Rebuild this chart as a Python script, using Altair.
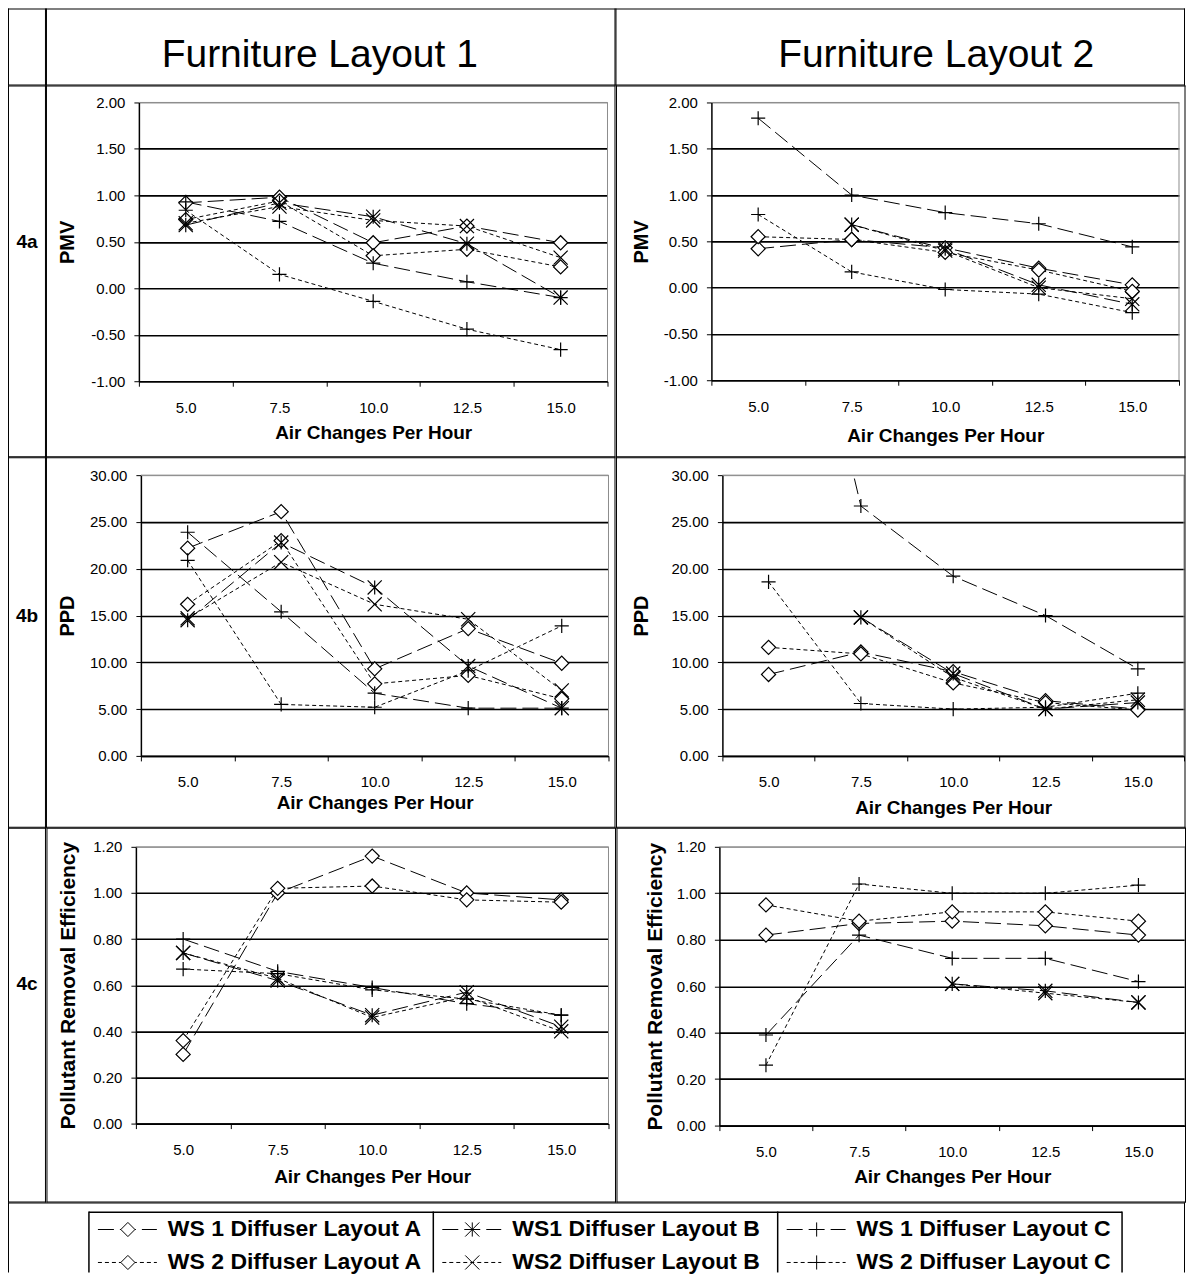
import altair as alt
import pandas as pd

FONT = "Liberation Sans"

categories = ["5.0", "7.5", "10.0", "12.5", "15.0"]
series = ["WS 1 Diffuser Layout A", "WS 2 Diffuser Layout A",
          "WS1 Diffuser Layout B", "WS2 Diffuser Layout B",
          "WS 1 Diffuser Layout C", "WS 2 Diffuser Layout C"]

# rows follow the order of `series`; None = no value
pmv_layout1 = [
    [0.92, 0.98, 0.49, 0.67, 0.49],
    [0.74, 0.94, 0.35, 0.42, 0.23],
    [0.68, 0.92, 0.77, 0.48, -0.10],
    [0.70, 0.88, 0.73, 0.67, 0.33],
    [0.93, 0.72, 0.27, 0.07, -0.10],
    [0.84, 0.15, -0.14, -0.44, -0.66],
]
pmv_layout2 = [
    [0.42, 0.52, 0.43, 0.21, 0.03],
    [0.55, 0.52, 0.38, 0.19, -0.04],
    [None, 0.68, 0.42, 0.03, -0.18],
    [None, 0.68, 0.40, 0.00, -0.12],
    [1.83, 1.00, 0.81, 0.69, 0.44],
    [0.79, 0.17, -0.02, -0.07, -0.27],
]
ppd_layout1 = [
    [22.2, 26.1, 9.3, 13.6, 9.9],
    [16.2, 23.0, 7.7, 8.6, 6.1],
    [14.5, 22.8, 18.0, 9.6, 5.1],
    [14.7, 20.7, 16.2, 14.6, 7.0],
    [23.9, 15.4, 6.7, 5.1, 5.1],
    [20.9, 5.5, 5.2, 9.1, 13.9],
]
ppd_layout2 = [
    [8.7, 11.1, 9.0, 5.9, 5.0],
    [11.6, 10.9, 7.8, 5.7, 4.9],
    [None, 14.8, 8.8, 5.0, 5.7],
    [None, 14.8, 8.4, 5.0, 6.0],
    [68.5, 26.7, 19.2, 15.0, 9.3],
    [18.6, 5.6, 5.0, 5.2, 6.7],
]
pre_layout1 = [
    [0.30, 1.00, 1.16, 1.00, 0.97],
    [0.36, 1.02, 1.03, 0.97, 0.96],
    [0.74, 0.62, 0.47, 0.57, 0.42],
    [0.74, 0.63, 0.46, 0.55, 0.40],
    [0.80, 0.66, 0.59, 0.52, 0.47],
    [0.67, 0.65, 0.58, 0.54, 0.47],
]
pre_layout2 = [
    [0.82, 0.87, 0.88, 0.86, 0.82],
    [0.95, 0.88, 0.92, 0.92, 0.88],
    [None, None, 0.61, 0.58, 0.53],
    [None, None, 0.61, 0.57, 0.53],
    [0.39, 0.82, 0.72, 0.72, 0.62],
    [0.26, 1.04, 1.00, 1.00, 1.035],
]

pmv_ticks = [-1.0, -0.5, 0.0, 0.5, 1.0, 1.5, 2.0]
ppd_ticks = [0, 5, 10, 15, 20, 25, 30]
pre_ticks = [0.0, 0.2, 0.4, 0.6, 0.8, 1.0, 1.2]

headers = ["Furniture Layout 1", "Furniture Layout 2"]
row_labels = ["4a", "4b", "4c"]

STAR = "M-1,-1L1,1M-1,1L1,-1M0,-1L0,1"
XSH = "M-1,-1L1,1M-1,1L1,-1"
PLUS = "M-1,0L1,0M0,-1L0,1"
shapes = ["diamond", "diamond", STAR, XSH, PLUS, PLUS]
sizes = [200, 200, 150, 150, 190, 190]
legend_sizes = [90, 90, 70, 60, 90, 90]
dashes = [[16, 6], [4, 3], [16, 6], [4, 3], [16, 6], [4, 3]]
legend_dashes = [[5, 4], [1.5, 3], [5, 4], [1.5, 3], [5, 4], [1.5, 3]]

one = pd.DataFrame({"k": [0]})

LABEL_W = 38
CELL_W = 570
TOTAL_W = LABEL_W + 2 * CELL_W


def make_df(values):
    rows = []
    for s, vals in zip(series, values):
        for i, (c, v) in enumerate(zip(categories, vals)):
            rows.append({"ach": c, "idx": i, "series": s, "value": v})
    return pd.DataFrame(rows)


def bar(x0, x1, y0, y1):
    # a thin filled rectangle used as a table line (no stroke -> exact bounds)
    return alt.Chart(one).mark_rect(color="black", opacity=1).encode(
        x=alt.value(x0), x2=alt.value(x1), y=alt.value(y0), y2=alt.value(y1))


def frame(x0, x1, y0, y1, sides="tblr"):
    parts = []
    if "t" in sides:
        parts.append(bar(x0, x1, y0, y0 + 1))
    if "b" in sides:
        parts.append(bar(x0, x1, y1 - 1, y1))
    if "l" in sides:
        parts.append(bar(x0, x0 + 1, y0, y1))
    if "r" in sides:
        parts.append(bar(x1 - 1, x1, y0, y1))
    return parts


LABEL_EXPR = "replace(format(datum.value, '.2f'), '\u2212', '-')"


def panel(values, ticks, ytitle, ytsize, left, top, W, H, cell_h, ytx, xty, cell_w=CELL_W):
    df = make_df(values)
    lo, hi = ticks[0], ticks[-1]
    test = f"datum.value >= {hi - 1e-6}"
    grid_color = {"condition": {"test": test, "value": "#8c8c8c"}, "value": "#000000"}
    grid_width = {"condition": {"test": test, "value": 1}, "value": 1.6}
    x = alt.X("ach:N", sort=categories,
              scale=alt.Scale(type="band", domain=categories, paddingInner=0, paddingOuter=0),
              axis=alt.Axis(title="Air Changes Per Hour", titleFontSize=19, titleFontWeight="bold",
                            titleX=W / 2, titleY=xty, titleBaseline="middle", titleAlign="center",
                            labelAngle=0, labelFontSize=15, labelPadding=14, tickBand="extent",
                            tickSize=5, tickColor="black", domainColor="black", domainWidth=1.5,
                            grid=False, labelColor="black", titleColor="black"))
    y = alt.Y("value:Q", scale=alt.Scale(domain=[lo, hi], nice=False, zero=False),
              axis=alt.Axis(values=ticks, labelExpr=LABEL_EXPR, title=ytitle, titleFontSize=ytsize,
                            titleFontWeight="bold", titleX=-ytx, titleY=H / 2, titleAngle=-90,
                            titleBaseline="middle", titleAlign="center", labelFontSize=15,
                            labelPadding=9, tickSize=5, tickColor="black", domainColor="black",
                            domainWidth=1.5, grid=True, gridColor=grid_color, gridWidth=grid_width,
                            labelColor="black", titleColor="black"))
    lines = alt.Chart(df).mark_line(color="black", strokeWidth=1, clip=True).encode(
        x=x, y=y, detail="series:N", order="idx:Q",
        strokeDash=alt.StrokeDash("series:N", scale=alt.Scale(domain=series, range=dashes), legend=None))
    pts = alt.Chart(df).mark_point(filled=True, fill="white", stroke="black", strokeWidth=1.2,
                                   opacity=1, clip=True).encode(
        x=x, y=y,
        shape=alt.Shape("series:N", scale=alt.Scale(domain=series, range=shapes), legend=None),
        size=alt.Size("series:N", scale=alt.Scale(domain=series, range=sizes), legend=None))
    box_top = alt.Chart(one).mark_rule(color="#8c8c8c", strokeWidth=1).encode(
        x=alt.value(0), x2=alt.value(W), y=alt.value(0))
    box_right = alt.Chart(one).mark_rule(color="#8c8c8c", strokeWidth=1).encode(
        x=alt.value(W), y=alt.value(0), y2=alt.value(H))
    edges = frame(-left, cell_w - left, -top, cell_h - top)
    return alt.layer(lines, pts, box_top, box_right, *edges).properties(width=W, height=H)


def label_cell(text, top, cell_h, ty):
    d = pd.DataFrame({"t": [text]})
    txt = alt.Chart(d).mark_text(fontSize=19, fontWeight="bold", align="center",
                                 baseline="middle", color="black").encode(
        text="t:N", x=alt.value(LABEL_W / 2), y=alt.value(ty))
    edges = frame(0, LABEL_W, -top, cell_h - top)
    return alt.layer(txt, *edges).properties(width=LABEL_W, height=cell_h - 2 * top)


def header_cell(text, w, h, tx, ty):
    d = pd.DataFrame({"t": [text]})
    txt = alt.Chart(d).mark_text(fontSize=39, fontWeight="normal", align="center",
                                 baseline="alphabetic", color="black").encode(
        text="t:N", x=alt.value(tx), y=alt.value(ty))
    return alt.layer(txt, *frame(0, w, 0, h)).properties(width=w, height=h)


header = alt.hconcat(
    header_cell(" ", LABEL_W, 77, 19, 58.5),
    header_cell(headers[0], CELL_W, 77, 274, 58.5),
    header_cell(headers[1], CELL_W, 77, 321, 58.5),
    spacing=0)

row_a = alt.hconcat(
    label_cell(row_labels[0], 17, 372, 139.5),
    panel(pmv_layout1, pmv_ticks, "PMV", 20, 93, 17, 469, 279, 372, 71, 51.5),
    panel(pmv_layout2, pmv_ticks, "PMV", 20, 95.5, 17, 468, 278, 372, 69.5, 55),
    spacing=0)

row_b = alt.hconcat(
    label_cell(row_labels[1], 18, 371, 140.5),
    panel(ppd_layout1, ppd_ticks, "PPD", 20, 95, 18, 468, 281, 371, 73, 47),
    panel(ppd_layout2, ppd_ticks, "PPD", 20, 106.5, 18, 462, 281, 371, 80.5, 52),
    spacing=0)

row_c = alt.hconcat(
    label_cell(row_labels[2], 19, 375, 137.5),
    panel(pre_layout1, pre_ticks, "Pollutant Removal Efficiency", 21, 89.5, 19, 473, 277, 375, 67, 52.5),
    panel(pre_layout2, pre_ticks, "Pollutant Removal Efficiency", 21, 103, 19, 466, 279, 375, 64, 51),
    spacing=0)

# legend row (plot area = whole legend cell)
legend_cols = [0, 0, 1, 1, 2, 2]
legend_rows = [0, 1, 0, 1, 0, 1]
LEG_H = 70
BOX_L, BOX_R, BOX_T = 81, 1115, 9
COLW = (BOX_R - BOX_L) / 3
ROW0, ROWSTEP = 27, 33
leg_df = pd.DataFrame({"series": series, "col": legend_cols, "row": legend_rows})
leg = alt.Chart(leg_df).transform_calculate(
    x0=f"datum.col + {9 / COLW}", x1=f"datum.col + {68 / COLW}",
    xm=f"datum.col + {39 / COLW}", xt=f"datum.col + {79 / COLW}")
xsc = alt.Scale(domain=[-BOX_L / COLW, (TOTAL_W - BOX_L) / COLW], nice=False, zero=False)
ysc = alt.Scale(domain=[-ROW0 / ROWSTEP, (LEG_H - ROW0) / ROWSTEP], nice=False, zero=False, reverse=True)
leg_lines = leg.mark_rule(color="black", strokeWidth=1).encode(
    x=alt.X("x0:Q", scale=xsc, axis=None), x2="x1:Q",
    y=alt.Y("row:Q", scale=ysc, axis=None),
    strokeDash=alt.StrokeDash("series:N", scale=alt.Scale(domain=series, range=legend_dashes), legend=None))
leg_pts = leg.mark_point(filled=True, fill="white", stroke="black", strokeWidth=1, opacity=1).encode(
    x=alt.X("xm:Q", scale=xsc, axis=None), y=alt.Y("row:Q", scale=ysc, axis=None),
    shape=alt.Shape("series:N", scale=alt.Scale(domain=series, range=shapes), legend=None),
    size=alt.Size("series:N", scale=alt.Scale(domain=series, range=legend_sizes), legend=None))
leg_text = leg.mark_text(align="left", baseline="middle", fontSize=23, fontWeight="bold",
                         color="black").encode(
    x=alt.X("xt:Q", scale=xsc, axis=None), y=alt.Y("row:Q", scale=ysc, axis=None), text="series:N")
dividers = alt.Chart(pd.DataFrame({"d": [0, 1, 2, 3]})).mark_rule(color="black", strokeWidth=1.5).encode(
    x=alt.X("d:Q", scale=xsc, axis=None), y=alt.value(BOX_T), y2=alt.value(LEG_H))
box_top = bar(BOX_L, BOX_R, BOX_T, BOX_T + 1.5)
legend_chart = alt.layer(box_top, dividers, leg_lines, leg_pts, leg_text,
                         *frame(0, TOTAL_W, 0, LEG_H, sides="tlr")).properties(width=TOTAL_W, height=LEG_H)
legend_row = alt.hconcat(legend_chart, spacing=0)

chart = alt.vconcat(header, row_a, row_b, row_c, legend_row, spacing=0).properties(
    padding=0
).configure_view(strokeWidth=0).configure_axis(
    labelFont=FONT, titleFont=FONT
).configure_text(font=FONT)

chart.save("out.html", embed_options={"renderer": "svg", "actions": False})
